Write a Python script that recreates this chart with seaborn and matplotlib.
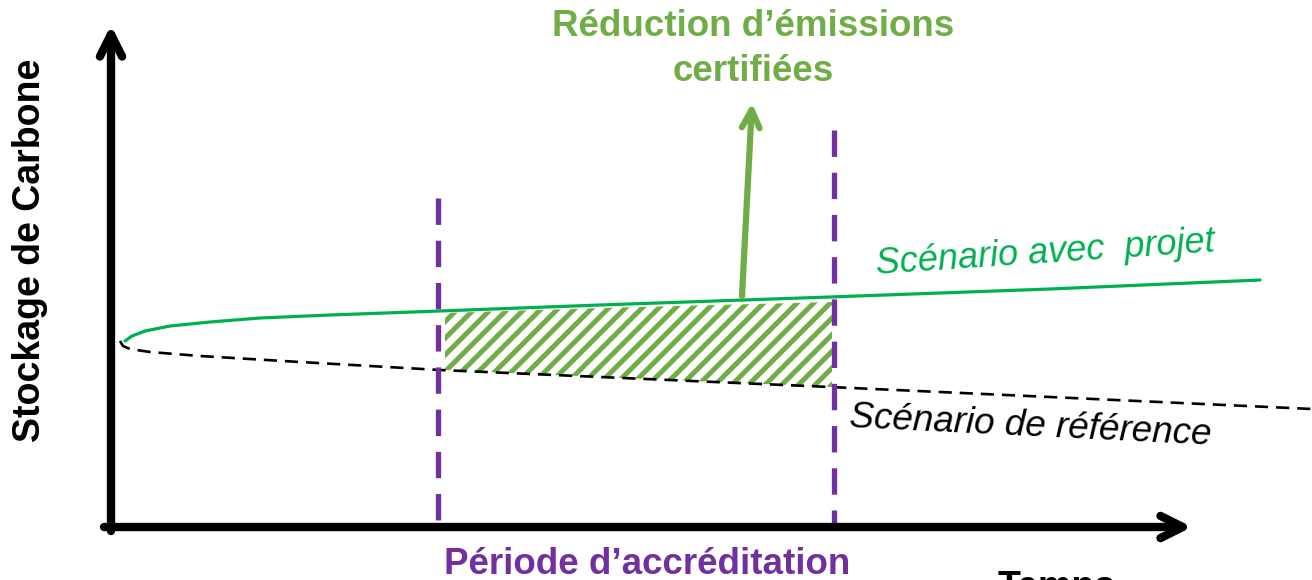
import numpy as np
import pandas as pd
import seaborn as sns
import matplotlib.pyplot as plt

# Conceptual diagram: coordinates (pixel-like units, y grows downward)
projet_x = [125, 132, 145, 170, 210, 260, 330, 440, 600, 830, 1050, 1260]
projet_y = [341, 336, 331, 326, 322, 318, 315, 311, 305, 297, 289, 280]

reference_x = [120, 123, 130, 150, 200, 300, 440, 600, 830, 1050, 1312]
reference_y = [341, 346, 349, 352, 356, 362, 370, 377, 387, 397, 409]

# credited period (vertical dashed lines)
period_start, period_end = 438, 834
period_start_top, period_end_top = 198, 130
period_bottom = 528

# hatched area between the scenarios over the credited period
hatch_x = [445, 600, 832]
hatch_top = [313, 308, 302]
hatch_bottom = [370, 377, 387]

GREEN = "#00B050"
LIGHT_GREEN = "#70AD47"
PURPLE = "#7030A0"

sns.set_theme(style="white")
plt.rcParams["font.family"] = ["Liberation Sans", "DejaVu Sans"]
plt.rcParams["hatch.linewidth"] = 3.6
plt.rcParams["hatch.color"] = LIGHT_GREEN

fig = plt.figure(figsize=(13.12, 5.8), dpi=100)
ax = fig.add_axes([0, 0, 1, 1])
ax.set_xlim(0, 1312)
ax.set_ylim(580, 0)
ax.axis("off")

# scenarios
df_proj = pd.DataFrame({"x": projet_x, "y": projet_y})
df_ref = pd.DataFrame({"x": reference_x, "y": reference_y})
sns.lineplot(data=df_proj, x="x", y="y", ax=ax, color=GREEN, lw=2.3, sort=False)
sns.lineplot(data=df_ref, x="x", y="y", ax=ax, color="black", lw=1.9,
             sort=False, dashes=False)
ax.lines[-1].set_dashes((5, 3))

# hatched certified reductions
ax.fill_between(hatch_x, hatch_top, hatch_bottom, facecolor="none",
                edgecolor=LIGHT_GREEN, hatch="//", linewidth=0)

# period boundaries
ax.vlines([period_start, period_end], [period_start_top, period_end_top],
          [period_bottom, period_bottom], colors=PURPLE, lw=3.8,
          linestyles=(0, (5, 3)))

# axes with arrows
ax.annotate("", xy=(1192, 527), xytext=(104, 527),
            arrowprops=dict(arrowstyle="->", lw=6, color="black",
                            mutation_scale=40, capstyle="round",
                            joinstyle="round", shrinkA=0, shrinkB=0))
ax.annotate("", xy=(111, 25), xytext=(111, 531),
            arrowprops=dict(arrowstyle="->", lw=6, color="black",
                            mutation_scale=40, capstyle="round",
                            joinstyle="round", shrinkA=0, shrinkB=0))

# arrow to the label
ax.annotate("", xy=(752, 103), xytext=(742, 296),
            arrowprops=dict(arrowstyle="->", lw=4.5, color=LIGHT_GREEN,
                            mutation_scale=32, shrinkA=0, shrinkB=0))

# texts
ax.text(753, 49, "Réduction d’émissions\ncertifiées", color=LIGHT_GREEN,
        fontsize=26.5, fontweight="bold", ha="center", va="center",
        linespacing=1.35)
ax.text(1045, 253, "Scénario avec  projet", color=GREEN, fontsize=26,
        style="italic", ha="center", va="center", rotation=3.8)
ax.text(1030, 426, "Scénario de référence", color="black", fontsize=26.5,
        style="italic", ha="center", va="center", rotation=-2.8)
ax.text(647, 564, "Période d’accréditation", color=PURPLE, fontsize=26.5,
        fontweight="bold", ha="center", va="center")
ax.text(1057, 588, "Temps", color="black", fontsize=27,
        fontweight="bold", ha="center", va="center")
ax.text(30, 250, "Stockage de Carbone", color="black", fontsize=27,
        fontweight="bold", ha="center", va="center", rotation=90)

fig.savefig("out.png", dpi=100)
